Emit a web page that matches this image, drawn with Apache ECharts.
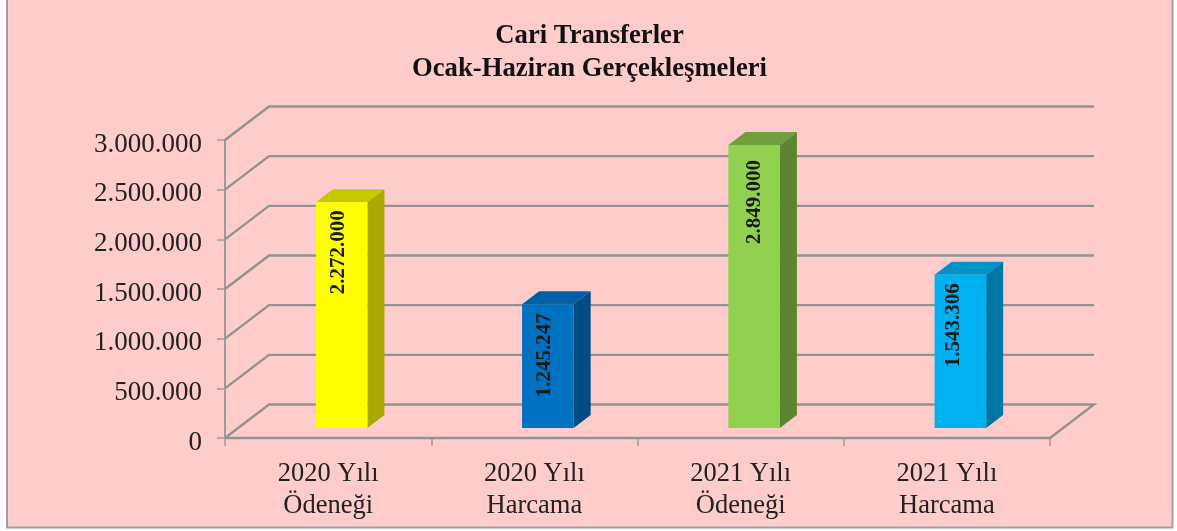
<!DOCTYPE html>
<html><head><meta charset="utf-8">
<style>html,body{margin:0;padding:0;background:#fff}#c{width:1177px;height:531px}</style>
<script src="https://cdn.jsdelivr.net/npm/echarts@6/dist/echarts.min.js"></script>
</head><body><div id="c"></div>
<script>
const categories = ['2020 Yılı\nÖdeneği', '2020 Yılı\nHarcama', '2021 Yılı\nÖdeneği', '2021 Yılı\nHarcama'];
const values = [2272000, 1245247, 2849000, 1543306];
const tickValues = [0, 500000, 1000000, 1500000, 2000000, 2500000, 3000000];
const frontColors = ['#FFFF00', '#0070C0', '#92D050', '#00B0F0'];
const topColors = ['#C8C800', '#0060A6', '#6F9E3C', '#0092C8'];
const sideColors = ['#A8A800', '#004C82', '#5E8632', '#0076A2'];
const titleLines = 'Cari Transferler\nOcak-Haziran Gerçekleşmeleri';

const FONT = '"Liberation Serif","Times New Roman",serif';
const WALL = [44, -33.5], BAR_SHIFT = [13.5, -10], BAR_DEPTH = [17, -13];
const LABEL_NUDGE = [[-3, 50], [-3, 51], [0, 57], [-7, 50.5]];
const GRID_COLOR = '#929292', AXIS_COLOR = '#9c9c9c';
const fmt = v => String(v).replace(/\B(?=(\d{3})+(?!\d))/g, '.');

const chart = echarts.init(document.getElementById('c'), null, {renderer: 'canvas'});
chart.setOption({
  animation: false,
  backgroundColor: '#ffffff',
  graphic: [{type: 'rect', z: -10, silent: true,
    shape: {x: 7, y: -4, width: 1165.5, height: 531.5},
    style: {fill: '#FFCCCC', stroke: '#A0A0A0', lineWidth: 2}}],
  title: {
    text: titleLines, left: 584.5, top: 15, textAlign: 'center',
    textStyle: {fontFamily: FONT, fontSize: 26.7, fontWeight: 'bold', color: '#111', lineHeight: 33}
  },
  grid: {left: 225, right: 127, top: 140, bottom: 93},
  xAxis: {
    type: 'category', data: categories,
    axisLine: {show: false},
    axisTick: {show: true, alignWithLabel: false, length: 8, lineStyle: {color: AXIS_COLOR, width: 1.5}},
    axisLabel: {fontFamily: FONT, fontSize: 26.5, color: '#222', margin: 20, lineHeight: 32, interval: 0}
  },
  yAxis: {
    type: 'value', min: 0, max: 3000000, interval: 500000,
    splitLine: {show: false},
    axisLine: {show: true, lineStyle: {color: AXIS_COLOR, width: 2}},
    axisTick: {show: true, length: 8, lineStyle: {color: AXIS_COLOR, width: 1.5}},
    axisLabel: {fontFamily: FONT, fontSize: 27, color: '#222', margin: 23, verticalAlign: 'top', padding: [-9, 0, 0, 0], formatter: v => fmt(v)}
  },
  series: [
    {
      type: 'custom', coordinateSystem: 'cartesian2d', clip: false, z: 1, silent: true,
      data: tickValues.map(v => [0, v]),
      renderItem(params, api) {
        const cs = params.coordSys, v = api.value(1);
        const y = api.coord([0, v])[1], x0 = cs.x, x1 = cs.x + cs.width;
        const pts = [[x0, y], [x0 + WALL[0], y + WALL[1]], [x1 + WALL[0], y + WALL[1]]];
        if (v === 0) { pts.push([x1, y], [x0, y]); }
        return {type: 'polyline', shape: {points: pts},
          style: {stroke: GRID_COLOR, lineWidth: 2.4, fill: null}};
      }
    },
    {
      type: 'custom', coordinateSystem: 'cartesian2d', clip: false, z: 3, silent: true,
      data: values.map((v, i) => [i, v]),
      renderItem(params, api) {
        const i = api.value(0), v = api.value(1);
        const c = api.coord([i, v]), b = api.coord([i, 0]);
        const w = api.size([1, 0])[0] * 0.25;
        const l = c[0] + BAR_SHIFT[0] - w / 2, r = l + w;
        const t = c[1] + BAR_SHIFT[1], bo = b[1] + BAR_SHIFT[1];
        const dx = BAR_DEPTH[0], dy = BAR_DEPTH[1];
        return {type: 'group', children: [
          {type: 'polygon', shape: {points: [[l, t], [r, t], [r + dx, t + dy], [l + dx, t + dy]]}, style: {fill: topColors[i]}},
          {type: 'polygon', shape: {points: [[r, t], [r + dx, t + dy], [r + dx, bo + dy], [r, bo]]}, style: {fill: sideColors[i]}},
          {type: 'rect', shape: {x: l, y: t, width: w, height: bo - t}, style: {fill: frontColors[i]}},
          {type: 'text', x: (l + r) / 2 + LABEL_NUDGE[i][0], y: t + LABEL_NUDGE[i][1], rotation: Math.PI / 2,
            style: {text: fmt(v), fontFamily: FONT, fontSize: 21, fontWeight: 'bold', fill: '#1a1a1a',
              align: 'center', verticalAlign: 'middle'}}
        ]};
      }
    }
  ]
});
</script></body></html>
